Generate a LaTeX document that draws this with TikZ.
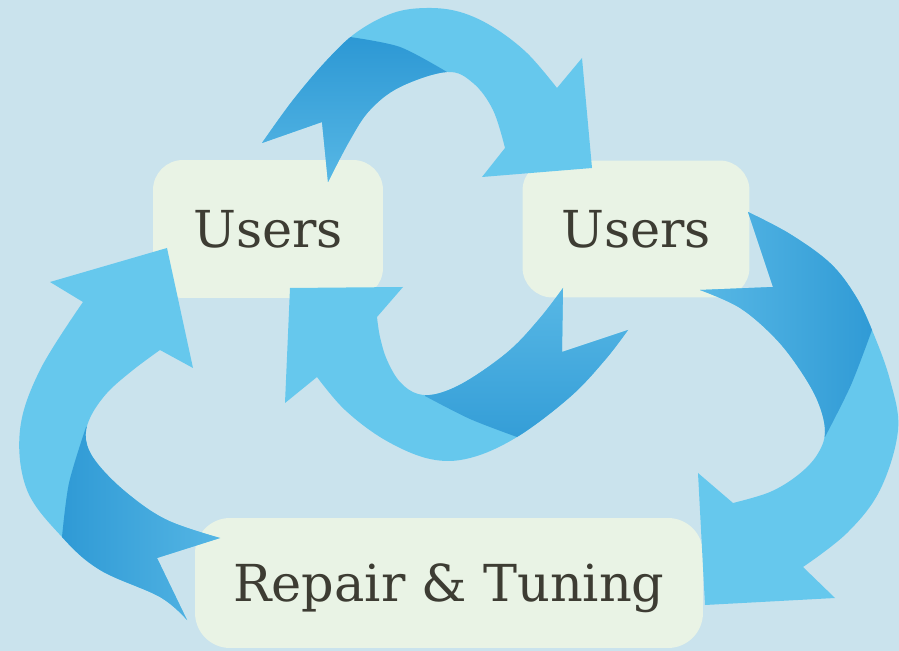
\documentclass[tikz,border=0pt]{standalone}
\usepackage{fontspec}
\setmainfont{DejaVu Serif}

\definecolor{bgblue}{HTML}{CAE3ED}
\definecolor{boxfill}{HTML}{E9F3E5}
\definecolor{arrowlight}{HTML}{66C8ED}
\definecolor{arrowmid}{HTML}{5CBBE7}
\definecolor{arrowdark}{HTML}{2A96D3}
\definecolor{textgray}{HTML}{3D3C33}

\tikzset{
    stagebox/.style={fill=boxfill, rounded corners=0.6cm, text=textgray,
        font=\fontsize{29}{31}\selectfont, text depth=0pt, inner sep=0pt},
    ribbon/.style={fill=arrowlight},
}

\begin{document}
\begin{tikzpicture}[x=0.02cm, y=-0.02cm]

    % Background, fixes the size of the page (pixel grid, y downwards)
    \fill[bgblue] (0,0) rectangle (899,651);
    \useasboundingbox (0,0) rectangle (899,651);

    % --- Boxes ---
    \node[stagebox, minimum width=4.6cm, minimum height=2.76cm] (usersleft) at (268,229) {Users};
    \node[stagebox, minimum width=4.54cm, minimum height=2.74cm] (usersright) at (636,229) {Users};
    \node[stagebox, minimum width=10.16cm, minimum height=2.6cm, rounded corners=0.7cm] (repair) at (449,583) {Repair \& Tuning};

    % --- Arrow outlines ---
    % Top arrow: left box -> right box
    \def\arrowtop{plot[smooth, tension=0.6] coordinates {(262,143) (293,100) (327,60) (357,32) (393,13) (427,8) (460,12) (493,27) (527,53) (557,88)}
        -- (582,58) -- (592,168) -- (482,177) -- (505,148)
        -- plot[smooth, tension=0.6] coordinates {(505,148) (493,110) (473,83) (447,72) (400,87) (370,110) (350,140) (328,182)}
        -- (322,122) -- cycle}
    % Middle arrow: right box -> left box
    \def\arrowmid{plot[smooth, tension=0.6] coordinates {(563,288) (540,318) (510,350) (470,379) (440,393) (418,394) (400,382) (387,360) (380,337) (377,317)}
        -- (403,287) -- (290,288) -- (285,403) -- (317,377)
        -- plot[smooth, tension=0.6] coordinates {(317,377) (345,410) (385,440) (430,459) (470,458) (517,437) (570,397) (605,360) (628,330)}
        -- (562,352) -- cycle}
    % Right arrow: right box -> repair box
    \def\arrowright{plot[smooth, tension=0.6] coordinates {(748,212) (790,234) (830,263) (855,295) (872,330) (890,380) (898,430) (880,490) (847,533) (803,567)}
        -- (835,598) -- (705,605) -- (698,473) -- (733,503)
        -- plot[smooth, tension=0.6] coordinates {(733,503) (770,492) (798,475) (817,455) (825,432) (818,402) (800,370) (775,338) (740,308) (700,290)}
        -- (773,287) -- cycle}
    % Left arrow: repair box -> left box
    \def\arrowleft{(167,248) -- (193,368) -- (160,350)
        -- plot[smooth, tension=0.6] coordinates {(160,350) (133,370) (107,393) (90,418) (86,440) (97,463) (127,493) (167,520) (220,538)}
        -- (157,558) -- (187,620)
        -- plot[smooth, tension=0.6] coordinates {(187,620) (160,597) (100,570) (62,537) (27,490) (20,430) (40,370) (83,302)}
        -- (50,282) -- cycle}

    % --- Light ribbons ---
    \fill[ribbon] \arrowtop;
    \fill[ribbon] \arrowmid;
    \fill[ribbon] \arrowright;
    \fill[ribbon] \arrowleft;

    % --- Dark (twisted) parts, clipped to their ribbon ---
    \begin{scope}
        \clip \arrowtop;
        \shade[top color=arrowdark, bottom color=arrowmid] (230,28) -- (330,28)
            -- plot[smooth] coordinates {(350,37) (400,47) (447,72)} -- (447,200) -- (230,200) -- cycle;
    \end{scope}
    \begin{scope}
        \clip \arrowmid;
        \shade[top color=arrowmid, bottom color=arrowdark] (425,270) -- (700,270) -- (700,480) -- (520,480)
            -- plot[smooth] coordinates {(517,437) (470,419) (425,396)} -- cycle;
    \end{scope}
    \begin{scope}
        \clip \arrowright;
        \shade[left color=arrowmid, right color=arrowdark] (899,322) -- (899,180) -- (680,180) -- (680,437)
            -- plot[smooth] coordinates {(825,437) (851,385) (872,330)} -- cycle;
    \end{scope}
    \begin{scope}
        \clip \arrowleft;
        \shade[left color=arrowdark, right color=arrowmid] (86,427) -- (250,427) -- (250,651) -- (40,651)
            -- plot[smooth] coordinates {(62,537) (69,483) (86,427)} -- cycle;
    \end{scope}

\end{tikzpicture}
\end{document}
